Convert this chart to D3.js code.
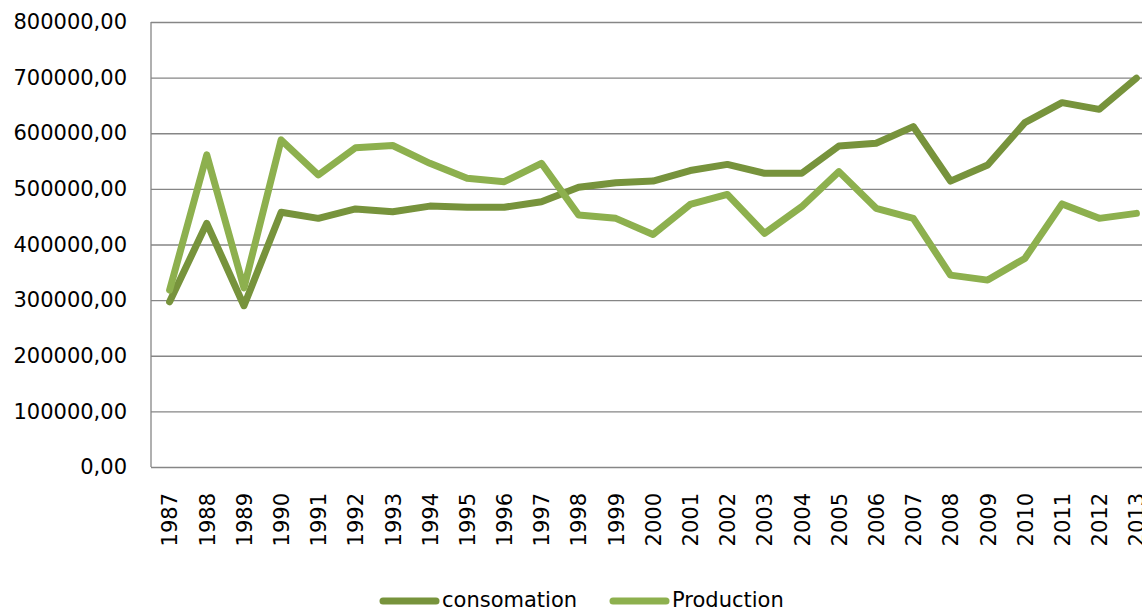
<!DOCTYPE html>
<html>
<head>
<meta charset="utf-8">
<script src="https://cdn.jsdelivr.net/npm/d3@7"></script>
<style>
  body { margin: 0; background: #fff; }
  svg { display: block; font-family: "DejaVu Sans", sans-serif; }
</style>
</head>
<body>
<svg id="chart"></svg>
<script>
// years on the category axis
var years = [1987, 1988, 1989, 1990, 1991, 1992, 1993, 1994, 1995, 1996, 1997, 1998, 1999,
  2000, 2001, 2002, 2003, 2004, 2005, 2006, 2007, 2008, 2009, 2010, 2011, 2012, 2013];

// consumption series (dark green)
var consomation = [297000, 438000, 290000, 458000, 447000, 464000, 459000, 469000, 467000,
  467000, 477000, 503000, 511000, 514000, 533000, 544000, 528000, 528000, 577000, 582000,
  612000, 514000, 543000, 619000, 655000, 643000, 699000];

// production series (light green)
var production = [318000, 561000, 322000, 588000, 525000, 574000, 578000, 546000, 519000,
  513000, 546000, 453000, 447000, 418000, 472000, 490000, 420000, 468000, 531000, 465000,
  447000, 345000, 336000, 375000, 473000, 447000, 456000];

var yTicks = [0, 100000, 200000, 300000, 400000, 500000, 600000, 700000, 800000];

var series = [
  { name: "consomation", values: consomation, color: "#77933C" },
  { name: "Production", values: production, color: "#8DB04E" }
];

var width = 1142, height = 609;
var plotLeft = 151, plotRight = 1155, plotTop = 22, plotBottom = 467;

var svg = d3.select("#chart").attr("width", width).attr("height", height);

var x = d3.scalePoint().domain(years).range([plotLeft, plotRight]).padding(0.5);
var y = d3.scaleLinear().domain([0, 800000]).range([plotBottom, plotTop]);

var fmt = d3.formatLocale({ decimal: ",", thousands: "", grouping: [3], currency: ["", ""] }).format(".2f");

// gridlines + y labels
var yAxis = svg.append("g")
    .attr("transform", "translate(" + plotLeft + ",0)")
    .call(d3.axisLeft(y).tickValues(yTicks).tickFormat(fmt)
      .tickSizeInner(-(plotRight - plotLeft)).tickSizeOuter(0).tickPadding(24));
yAxis.select(".domain").remove();
yAxis.selectAll(".tick line").attr("stroke", "#868686").attr("stroke-width", 1.3);
yAxis.selectAll(".tick text")
    .attr("fill", "#000")
    .style("font-size", "21px")
    .style("font-family", "DejaVu Sans, sans-serif");

// left axis line
svg.append("line")
    .attr("x1", plotLeft).attr("x2", plotLeft)
    .attr("y1", y(800000)).attr("y2", y(0))
    .attr("stroke", "#868686").attr("stroke-width", 1.3);

// x labels
var xAxis = svg.append("g")
    .attr("transform", "translate(0," + plotBottom + ")")
    .call(d3.axisBottom(x).tickSize(0));
xAxis.select(".domain").remove();
xAxis.selectAll(".tick text")
    .attr("transform", "rotate(-90)")
    .attr("x", -26)
    .attr("y", 0)
    .attr("dy", "0.35em")
    .attr("text-anchor", "end")
    .attr("fill", "#000")
    .style("font-size", "21px")
    .style("font-family", "DejaVu Sans, sans-serif");

// lines
var line = d3.line()
    .x(function (d, i) { return x(years[i]); })
    .y(function (d) { return y(d); });

svg.selectAll(".series")
    .data(series)
    .enter()
    .append("path")
    .attr("class", "series")
    .attr("fill", "none")
    .attr("stroke", function (d) { return d.color; })
    .attr("stroke-width", 7)
    .attr("stroke-linejoin", "round")
    .attr("stroke-linecap", "round")
    .attr("d", function (d) { return line(d.values); });

// legend
var legendX = [383, 613];
var lg = svg.selectAll(".legend")
    .data(series)
    .enter()
    .append("g")
    .attr("class", "legend")
    .attr("transform", function (d, i) { return "translate(" + legendX[i] + ",601)"; });
lg.append("line")
    .attr("x1", 0).attr("x2", 53)
    .attr("stroke", function (d) { return d.color; })
    .attr("stroke-width", 7)
    .attr("stroke-linecap", "round");
lg.append("text")
    .attr("x", 59)
    .attr("y", 6)
    .style("font-size", "21px")
    .text(function (d) { return d.name; });
</script>
</body>
</html>
